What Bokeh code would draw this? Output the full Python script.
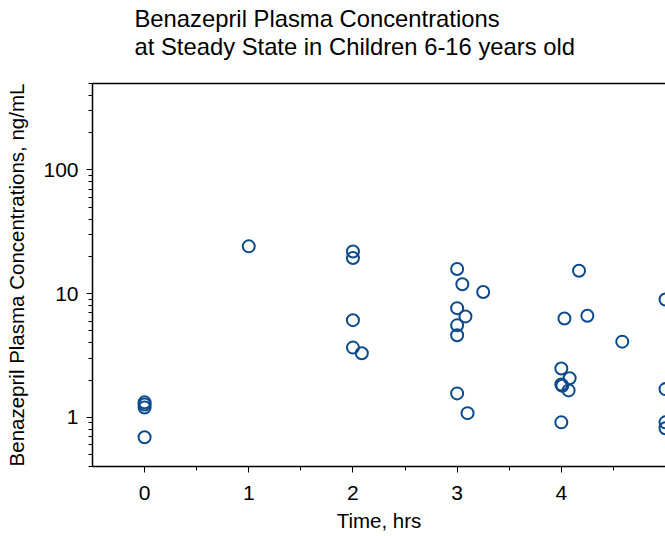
from bokeh.plotting import figure
from bokeh.models import (LogAxis, LinearAxis, FixedTicker, Range1d, ColumnDataSource,
                          LogScale, NumeralTickFormatter)
from bokeh.embed import file_html
from bokeh.resources import INLINE

# Data
time_hrs = [0, 0, 0, 0,
            1,
            2, 2, 2, 2, 2.085,
            3, 3.05, 3.25, 3, 3.08, 3, 3, 3, 3.10,
            4.17, 4.03, 4.25, 4.585, 4, 4.08, 4, 4.01, 4.07, 4,
            5, 5, 5, 5]
conc = [1.32, 1.27, 1.20, 0.69,
        24.1,
        21.9, 19.4, 6.1, 3.66, 3.29,
        15.8, 11.9, 10.3, 7.63, 6.54, 5.54, 4.60, 1.56, 1.08,
        15.3, 6.30, 6.63, 4.09, 2.48, 2.07, 1.84, 1.80, 1.65, 0.91,
        8.97, 1.69, 0.91, 0.815]

x_major_ticks = [0, 1, 2, 3, 4]
x_minor_ticks = [0.5, 1.5, 2.5, 3.5, 4.5]
y_major_ticks = [1, 10, 100]
y_minor_ticks = [0.4, 0.5, 0.6, 0.7, 0.8, 0.9,
                 2, 3, 4, 5, 6, 7, 8, 9,
                 20, 30, 40, 50, 60, 70, 80, 90,
                 200, 300, 400, 500]

title_text = "Benazepril Plasma Concentrations\nat Steady State in Children 6-16 years old"
x_label = "Time, hrs"
y_label = "Benazepril Plasma Concentrations, ng/mL"

FONT = "Liberation Sans"
BLUE = "#0B4A8C"

p = figure(width=665, height=536, output_backend="svg", toolbar_location=None,
           y_axis_type=None, x_axis_type=None,
           x_range=Range1d(-0.5, 5.0), y_range=Range1d(0.4, 500),
           min_border_left=92, min_border_right=0, min_border_top=83, min_border_bottom=70)
p.y_scale = LogScale()

p.title.text = title_text
p.title.text_font = FONT
p.title.text_font_size = "23.8px"
p.title.text_font_style = "normal"
p.title.text_color = "black"
p.title.align = "left"
p.title.offset = 42
p.title.standoff = 0
p.title.text_line_height = 1.05

p.outline_line_color = None
p.background_fill_color = "white"
p.border_fill_color = "white"
p.xgrid.visible = False
p.ygrid.visible = False

xaxis = LinearAxis(ticker=FixedTicker(ticks=x_major_ticks, minor_ticks=x_minor_ticks))
yaxis = LogAxis(ticker=FixedTicker(ticks=y_major_ticks, minor_ticks=y_minor_ticks),
                formatter=NumeralTickFormatter(format="0"))
# top frame line; its invisible label only reserves space under the title
top_axis = LinearAxis(ticker=FixedTicker(ticks=[], minor_ticks=[]),
                      major_tick_line_color=None, minor_tick_line_color=None,
                      axis_label=".", axis_label_text_alpha=0,
                      axis_label_text_font_size="10px", axis_label_standoff=12)

for ax in (xaxis, yaxis):
    ax.axis_line_color = "black"
    ax.axis_line_width = 1.5
    ax.major_tick_line_color = "black"
    ax.minor_tick_line_color = "black"
    ax.major_tick_line_width = 1
    ax.minor_tick_line_width = 1
    ax.major_tick_in = 0
    ax.minor_tick_in = 0
    ax.major_tick_out = 6
    ax.minor_tick_out = 4
    ax.major_label_text_font = FONT
    ax.major_label_text_font_size = "21px"
    ax.major_label_text_color = "black"
    ax.axis_label_text_font = FONT
    ax.axis_label_text_font_size = "20.5px"
    ax.axis_label_text_font_style = "normal"
    ax.axis_label_text_color = "black"

xaxis.axis_label = x_label
yaxis.axis_label = y_label
xaxis.major_label_standoff = 13
yaxis.major_label_standoff = 8
xaxis.axis_label_standoff = 6
yaxis.axis_label_standoff = 12
top_axis.axis_line_width = 1.5
top_axis.major_label_text_font_size = "0px"

p.add_layout(xaxis, "below")
p.add_layout(yaxis, "left")
p.add_layout(top_axis, "above")

src = ColumnDataSource(data=dict(t=time_hrs, c=conc))
p.scatter("t", "c", source=src, marker="circle", size=12,
          fill_color=None, line_color=BLUE, line_width=2)

open("out.html", "w").write(file_html(p, INLINE))
